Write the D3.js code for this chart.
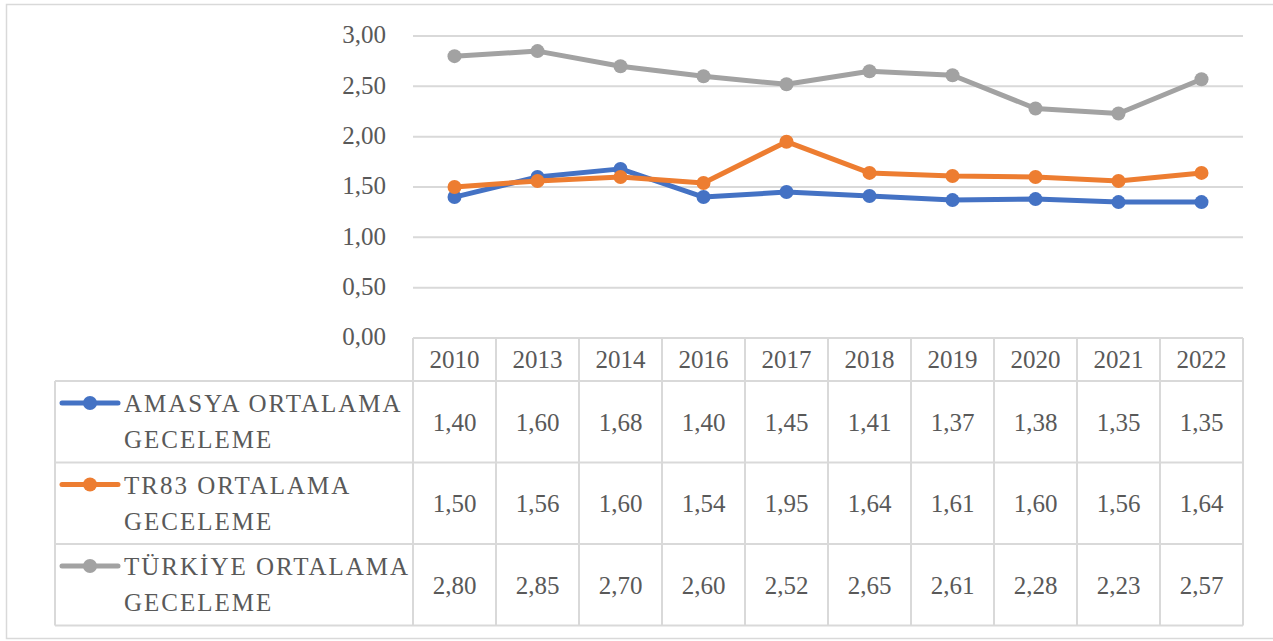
<!DOCTYPE html>
<html>
<head>
<meta charset="utf-8">
<script src="https://cdn.jsdelivr.net/npm/d3@7"></script>
<style>
  body { margin: 0; background: #fff; }
</style>
</head>
<body>
<div id="chart"></div>
<script>
const years = ['2010', '2013', '2014', '2016', '2017', '2018', '2019', '2020', '2021', '2022'];
const amasya = [1.40, 1.60, 1.68, 1.40, 1.45, 1.41, 1.37, 1.38, 1.35, 1.35];
const tr83 = [1.50, 1.56, 1.60, 1.54, 1.95, 1.64, 1.61, 1.60, 1.56, 1.64];
const turkiye = [2.80, 2.85, 2.70, 2.60, 2.52, 2.65, 2.61, 2.28, 2.23, 2.57];
const seriesNames = [['AMASYA ORTALAMA', 'GECELEME'], ['TR83 ORTALAMA', 'GECELEME'], ['TÜRKİYE ORTALAMA', 'GECELEME']];
const yTicks = [0, 0.5, 1, 1.5, 2, 2.5, 3];

const series = [
  {name: seriesNames[0], values: amasya, color: '#4472C4'},
  {name: seriesNames[1], values: tr83, color: '#ED7D31'},
  {name: seriesNames[2], values: turkiye, color: '#A2A2A2'}
];

const width = 1273, height = 641;
const textColor = '#595959', gridColor = '#d9d9d9';
const fontFam = 'Liberation Serif, DejaVu Serif, serif';
const fmt = v => d3.format('.2f')(v).replace('.', ',');

const svg = d3.select('#chart').append('svg')
  .attr('width', width)
  .attr('height', height)
  .style('font-family', fontFam);

// chart border
svg.append('rect')
  .attr('x', 6.5).attr('y', 4.5)
  .attr('width', 1280).attr('height', 634)
  .attr('fill', 'none').attr('stroke', gridColor).attr('stroke-width', 1.5);

const plot = {left: 413, right: 1243, top: 36, bottom: 338};
const xScale = d3.scaleBand().domain(years).range([plot.left, plot.right]);
const yScale = d3.scaleLinear().domain([0, 3]).range([plot.bottom, plot.top]);
const cx = d => xScale(d) + xScale.bandwidth() / 2;

function label(sel) {
  return sel.attr('fill', textColor)
    .style('font-family', fontFam)
    .style('font-size', '25px');
}

// gridlines + y labels
svg.append('g').selectAll('line')
  .data(yTicks.filter(d => d > 0))
  .enter().append('line')
  .attr('x1', plot.left).attr('x2', plot.right)
  .attr('y1', d => yScale(d)).attr('y2', d => yScale(d))
  .attr('stroke', gridColor).attr('stroke-width', 2);

svg.append('g').selectAll('text')
  .data(yTicks)
  .enter().append('text')
  .attr('x', 386)
  .attr('y', d => yScale(d) - 1)
  .attr('dy', '0.33em')
  .attr('text-anchor', 'end')
  .call(label)
  .text(fmt);

// data table
const tableTop = 338, headH = 43, rowH = 81.5;
const legendLeft = 55;
const tg = svg.append('g');
const lineAttrs = sel => sel.attr('stroke', gridColor).attr('stroke-width', 2);

tg.append('line').attr('x1', plot.left).attr('x2', plot.right)
  .attr('y1', tableTop).attr('y2', tableTop).call(lineAttrs);
for (let i = 0; i <= series.length; i++) {
  const y = tableTop + headH + i * rowH;
  tg.append('line').attr('x1', legendLeft).attr('x2', plot.right)
    .attr('y1', y).attr('y2', y).call(lineAttrs);
}
const bottom = tableTop + headH + series.length * rowH;
years.forEach(yr => {
  tg.append('line').attr('x1', xScale(yr)).attr('x2', xScale(yr))
    .attr('y1', tableTop).attr('y2', bottom).call(lineAttrs);
});
tg.append('line').attr('x1', plot.right).attr('x2', plot.right)
  .attr('y1', tableTop).attr('y2', bottom).call(lineAttrs);
tg.append('line').attr('x1', legendLeft).attr('x2', legendLeft)
  .attr('y1', tableTop + headH).attr('y2', bottom).call(lineAttrs);

tg.selectAll('.year')
  .data(years)
  .enter().append('text')
  .attr('x', d => cx(d))
  .attr('y', tableTop + headH / 2)
  .attr('dy', '0.35em')
  .attr('text-anchor', 'middle')
  .call(label)
  .text(d => d);

series.forEach((s, si) => {
  const rowTop = tableTop + headH + si * rowH;
  const rowMid = rowTop + rowH / 2;
  // legend key
  tg.append('line')
    .attr('x1', 62).attr('x2', 118)
    .attr('y1', rowTop + 22).attr('y2', rowTop + 22)
    .attr('stroke', s.color).attr('stroke-width', 5).attr('stroke-linecap', 'round');
  tg.append('circle')
    .attr('cx', 90).attr('cy', rowTop + 22).attr('r', 7)
    .attr('fill', s.color);
  s.name.forEach((t, li) => {
    tg.append('text')
      .attr('x', 124)
      .attr('y', rowTop + 31 + li * 36)
      .call(label)
      .style('letter-spacing', '2px')
      .text(t);
  });
  // values
  tg.selectAll('.v' + si)
    .data(s.values)
    .enter().append('text')
    .attr('x', (d, i) => cx(years[i]))
    .attr('y', rowMid)
    .attr('dy', '0.35em')
    .attr('text-anchor', 'middle')
    .call(label)
    .text(fmt);
});

// lines
const line = d3.line()
  .x((d, i) => cx(years[i]))
  .y(d => yScale(d));

const lg = svg.append('g');
series.forEach(s => {
  lg.append('path')
    .datum(s.values)
    .attr('d', line)
    .attr('fill', 'none')
    .attr('stroke', s.color)
    .attr('stroke-width', 5)
    .attr('stroke-linejoin', 'round');
  lg.selectAll(null)
    .data(s.values)
    .enter().append('circle')
    .attr('cx', (d, i) => cx(years[i]))
    .attr('cy', d => yScale(d))
    .attr('r', 7)
    .attr('fill', s.color);
});
</script>
</body>
</html>
